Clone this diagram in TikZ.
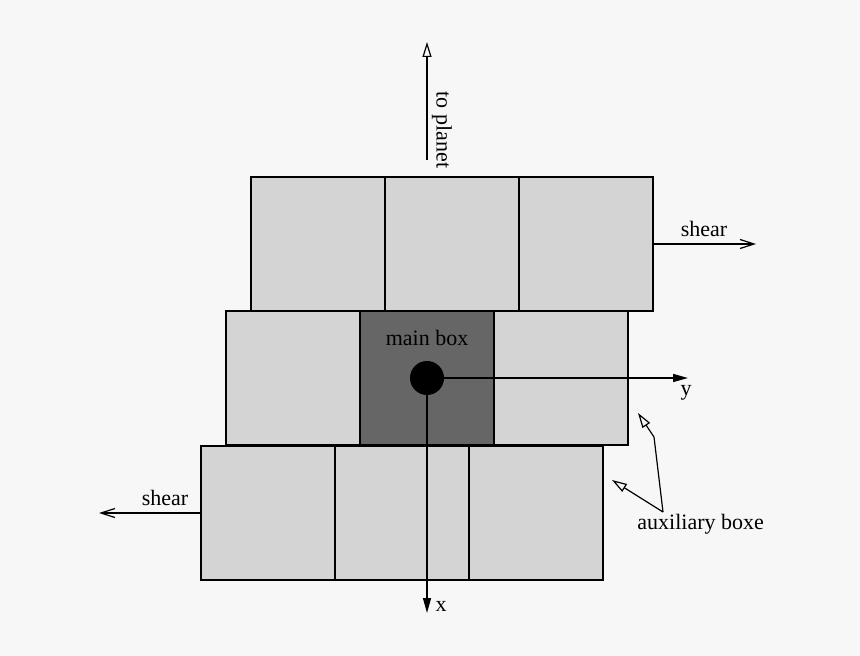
\documentclass[tikz,border=0pt]{standalone}
\usepackage{fontspec}
\setmainfont{Liberation Serif}
\usetikzlibrary{arrows.meta}
\definecolor{bggray}{HTML}{F7F7F7}
\definecolor{boxgray}{HTML}{D4D4D4}
\definecolor{maingray}{HTML}{666666}
\begin{document}
\begin{tikzpicture}[x=0.5pt,y=-0.5pt,font=\fontsize{11}{13}\selectfont,
 cell/.style={draw,line width=1pt,fill=boxgray,minimum width=67pt,minimum height=67pt,inner sep=0pt},
 axis/.style={line width=0.7pt,-{Triangle[length=7.5pt,width=4pt]}},
 shearline/.style={line width=0.6pt,-{Straight Barb[length=7pt,width=4.5pt]}},
 pointer/.style={line width=0.6pt,-{Triangle[open,length=7.5pt,width=4.5pt]}}]
 \fill[bggray] (0,0) rectangle (860,656);
 \useasboundingbox (0,0) rectangle (860,656);

 % bottom row
 \node[cell] (b1) at (268,513) {};
 \node[cell] (b2) at (402,513) {};
 \node[cell] (b3) at (536,513) {};
 % middle row
 \node[cell] (m1) at (293,378) {};
 \node[cell,fill=maingray] (main) at (427,378) {};
 \node[cell] (m3) at (561,378) {};
 % top row
 \node[cell] (t1) at (318,244) {};
 \node[cell] (t2) at (452,244) {};
 \node[cell] (t3) at (586,244) {};

 \node (mainlbl) at (427,338) {main box};
 \node[circle,fill=black,inner sep=0pt,minimum size=17pt] (dot) at (427,378) {};

 \coordinate (yend) at (688,378);
 \coordinate (xend) at (427,613);
 \draw[axis] (dot.east) -- (yend);
 \draw[axis] (dot.south) -- (xend);
 \node (ylbl) at (686,393) {y};
 \node (xlbl) at (441,606) {x};

 \coordinate (plfoot) at (427,160);
 \coordinate (pltip) at (427,42);
 \draw[pointer] (plfoot) -- (pltip);
 \node[rotate=-90] (pllbl) at (442,130) {to planet};

 \coordinate (shtop) at (756,244);
 \coordinate (shbot) at (99,513);
 \draw[shearline] (t3.east) -- (shtop);
 \draw[shearline] (b1.west) -- (shbot);
 \node (shtoplbl) at (704,229) {shear};
 \node (shbotlbl) at (165,498) {shear};

 \coordinate (auxpt) at (663,512);
 \coordinate (auxbend) at (654,437);
 \coordinate (auxtip1) at (638,413);
 \coordinate (auxtip2) at (612,480);
 \draw[pointer] (auxpt) -- (auxbend) -- (auxtip1);
 \draw[pointer] (auxpt) -- (auxtip2);
 \begin{scope}
  \clip (0,0) rectangle (762,656);
  \node[anchor=west,inner sep=0pt] (auxlbl) at (637,524) {auxiliary boxes};
 \end{scope}
\end{tikzpicture}
\end{document}
